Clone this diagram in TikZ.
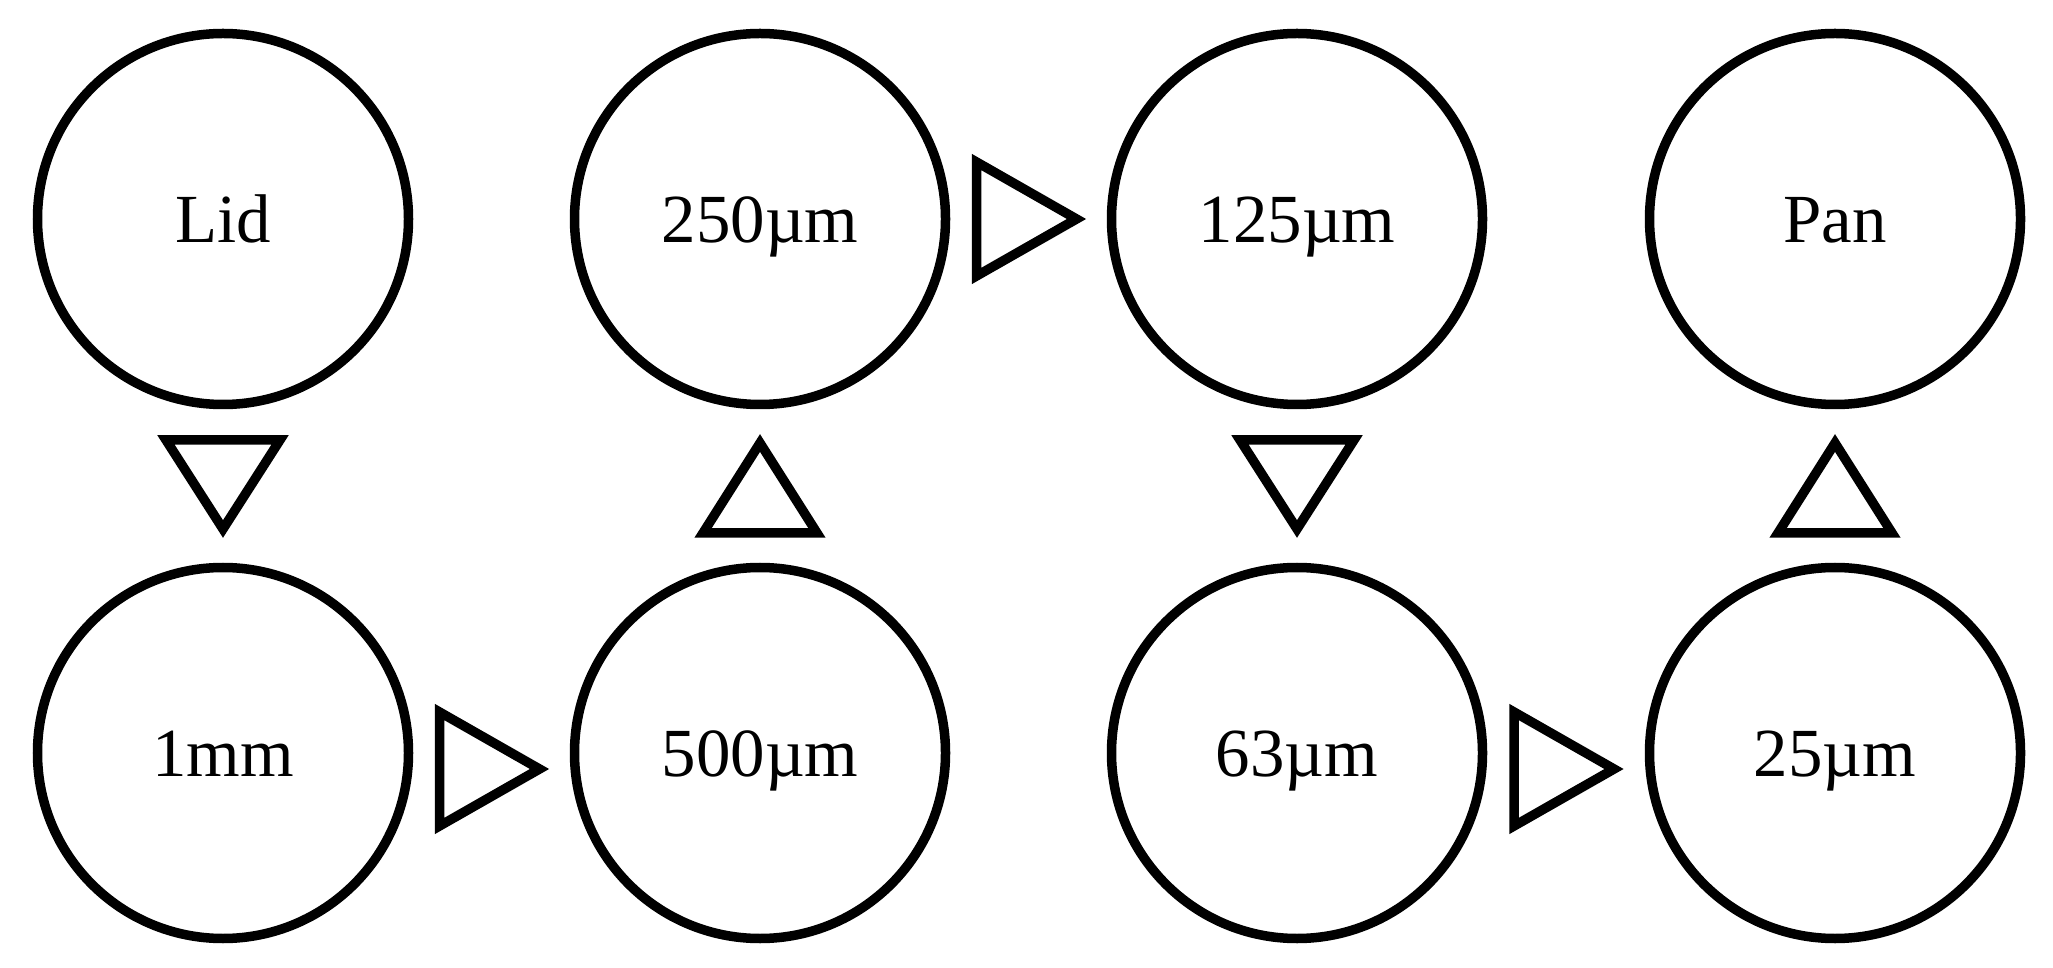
\documentclass[tikz,border=0pt]{standalone}
\usepackage{fontspec}
\setmainfont{Liberation Serif}
\usetikzlibrary{calc}
\tikzset{
  sieve/.style={draw=black, line width=0.095cm, circle, inner sep=0pt, outer sep=0pt,
    minimum size=3.71cm, font=\fontsize{19.6}{24}\selectfont,
    text height=0.47cm, text depth=0cm},
  tri/.style={draw=black, line width=0.095cm, line join=miter},
  pics/downtri/.style={code={\draw[tri] (-0.57,0.46) -- (0.57,0.46) -- (0,-0.43) -- cycle;}},
  pics/uptri/.style={code={\draw[tri] (-0.57,-0.47) -- (0.57,-0.47) -- (0,0.43) -- cycle;}},
  pics/righttri/.style={code={\draw[tri] (-0.52,0.57) -- (-0.52,-0.57) -- (0.48,0) -- cycle;}}
}
\begin{document}
\begin{tikzpicture}
\fill[white] (0,0) rectangle (20.53,-9.68);
\useasboundingbox (0,0) rectangle (20.53,-9.68);
% top row
\node[sieve] (lid)  at (2.23,-2.19)  {Lid};
\node[sieve] (r250) at (7.60,-2.19)  {250µm};
\node[sieve] (r125) at (12.97,-2.19) {125µm};
\node[sieve] (pan)  at (18.35,-2.19) {Pan};
% bottom row
\node[sieve] (mm1)  at (2.23,-7.53)  {1mm};
\node[sieve] (r500) at (7.60,-7.53)  {500µm};
\node[sieve] (r63)  at (12.97,-7.53) {63µm};
\node[sieve] (r25)  at (18.35,-7.53) {25µm};
% flow markers
\pic at ($(lid)!0.5!(mm1)$) {downtri};
\pic at ($(mm1)!0.5!(r500)+(0,-0.16)$) {righttri};
\pic at ($(r500)!0.5!(r250)$) {uptri};
\pic at ($(r250)!0.5!(r125)$) {righttri};
\pic at ($(r125)!0.5!(r63)$) {downtri};
\pic at ($(r63)!0.5!(r25)+(0,-0.16)$) {righttri};
\pic at ($(r25)!0.5!(pan)$) {uptri};
\end{tikzpicture}
\end{document}
